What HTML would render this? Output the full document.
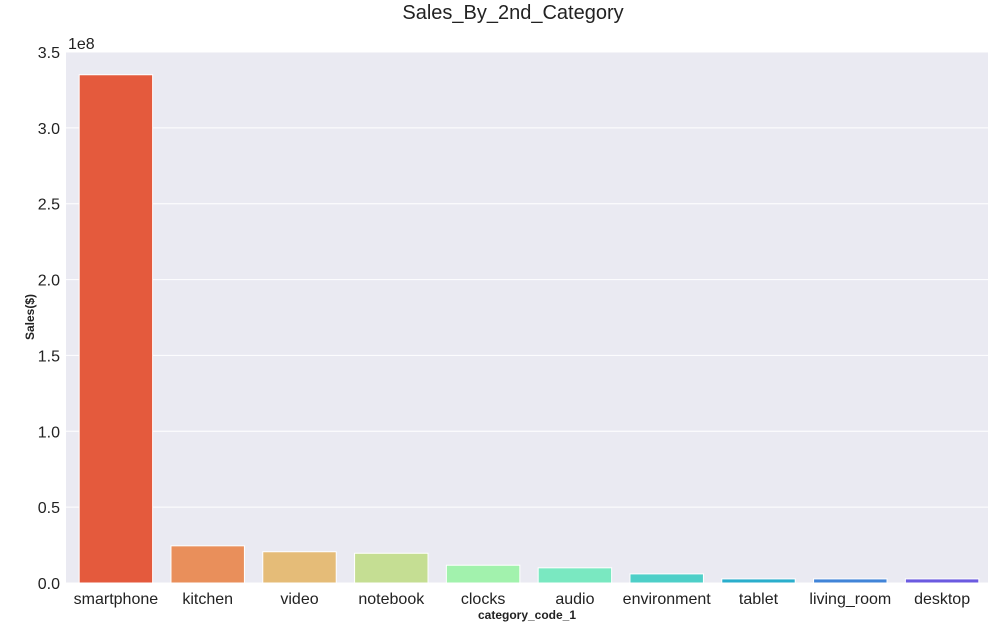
<!DOCTYPE html>
<html><head><meta charset="utf-8"><style>
body{margin:0;background:#fff;font-family:"Liberation Sans",sans-serif;}
</style></head><body>
<svg id="chart" width="995" height="627" xmlns="http://www.w3.org/2000/svg" font-family="Liberation Sans, sans-serif">
<text x="513" y="19" text-anchor="middle" font-size="20" fill="#222">Sales_By_2nd_Category</text>
<rect x="66" y="52" width="922" height="531" fill="#eaeaf2"/>
<g id="grid"></g><g id="bars"></g><g id="yt"></g><g id="xt"></g>
<text x="68" y="49" font-size="16" fill="#222">1e8</text>
<text transform="translate(34,317) rotate(-90)" text-anchor="middle" font-size="12" font-weight="bold" fill="#222">Sales($)</text>
<text x="527" y="619" text-anchor="middle" font-size="12" font-weight="bold" fill="#222">category_code_1</text>
</svg>
<script>
const categories=["smartphone","kitchen","video","notebook","clocks","audio","environment","tablet","living_room","desktop"];
const sales=[3.35,0.245,0.206,0.196,0.117,0.10,0.06,0.027,0.027,0.027];
const colors=["#e45a3d","#e98f5b","#e5bc78","#c5de93","#a2f2ad","#7ae8c1","#4ecfc8","#2aaecc","#4184d8","#6b5ae0"];
const yTicks=[0,0.5,1.0,1.5,2.0,2.5,3.0,3.5];
const yTickLabels=["0.0","0.5","1.0","1.5","2.0","2.5","3.0","3.5"];
const L=66,R=988,BL=70,T=52,B=583,yMax=3.5;
const ns="http://www.w3.org/2000/svg";
const y=v=>B-(v/yMax)*(B-T);
const bw=(R-BL)/categories.length;
const xc=i=>BL+bw*(i+0.5);
function mk(t,a,p){const e=document.createElementNS(ns,t);for(const k in a)e.setAttribute(k,a[k]);p.appendChild(e);return e;}
const g=document.getElementById('grid'),yt=document.getElementById('yt'),bars=document.getElementById('bars'),xt=document.getElementById('xt');
yTicks.forEach((v,i)=>{
 const l=mk('line',{x1:L,x2:R,y1:y(v),y2:y(v),stroke:'#fff','stroke-width':1},g);
 
 
 const t=mk('text',{x:L-6,y:y(v)+6,'text-anchor':'end','font-size':16,fill:'#222'},yt);
 t.textContent=yTickLabels[i];
 
 
});
categories.forEach((c,i)=>{
 const w=bw*0.8;
 const r=mk('rect',{x:xc(i)-w/2,y:y(sales[i]),width:w,height:B-y(sales[i]),fill:colors[i],stroke:'#fff','stroke-width':1},bars);
 
 
 const t=mk('text',{x:xc(i),y:604,'text-anchor':'middle','font-size':16,fill:'#222'},xt);
 t.textContent=c;
 
 
});
</script>
</body></html>
